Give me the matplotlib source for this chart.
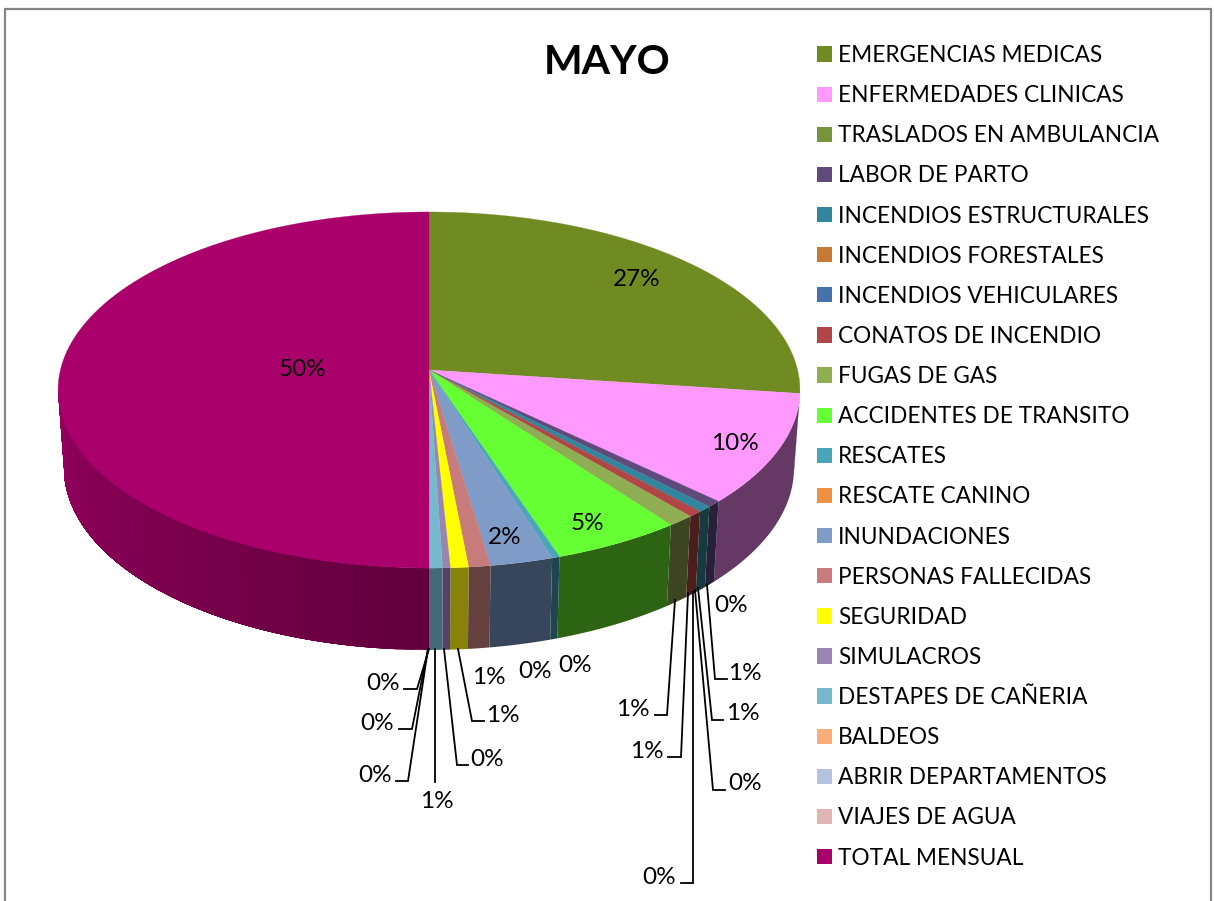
import numpy as np
import matplotlib
matplotlib.use("Agg")
import matplotlib.pyplot as plt
from matplotlib.patches import Patch

title = "MAYO"
categories = ["EMERGENCIAS MEDICAS", "ENFERMEDADES CLINICAS", "TRASLADOS EN AMBULANCIA", "LABOR DE PARTO",
              "INCENDIOS ESTRUCTURALES", "INCENDIOS FORESTALES", "INCENDIOS VEHICULARES", "CONATOS DE INCENDIO",
              "FUGAS DE GAS", "ACCIDENTES DE TRANSITO", "RESCATES", "RESCATE CANINO", "INUNDACIONES",
              "PERSONAS FALLECIDAS", "SEGURIDAD", "SIMULACROS", "DESTAPES DE CAÑERIA", "BALDEOS",
              "ABRIR DEPARTAMENTOS", "VIAJES DE AGUA", "TOTAL MENSUAL"]
values = [27.1, 10.0, 0.0, 0.57, 0.55, 0.0, 0.0, 0.55, 1.05, 5.06, 0.3, 0.0, 2.45,
          0.85, 0.7, 0.3, 0.52, 0.0, 0.0, 0.0, 50.0]

top_colors = ["#708B22", "#FF99FF", "#77933C", "#604A7B", "#31859C", "#C67A32", "#4672AA", "#B14646", "#8FAD52",
              "#66FF33", "#4BA5B9", "#EB9141", "#7F9CC9", "#C77C7B", "#FFFF00", "#9A84B2", "#78B8CF", "#F9AD78",
              "#B3C3DF", "#E0B5B5", "#AA006B"]
wall_colors = ["#3C4A12", "#663866", "#404F20", "#262038", "#173A41", "#60401A", "#253C5A", "#4B1E1E", "#3E4523",
               "#2D6414", "#1C4650", "#704520", "#37465A", "#64413F", "#87820A", "#55416A", "#46697A", "#80603E",
               "#606A78", "#786060", "#62003C"]
magenta_wall_side = "#960060"

# label layout in pixels: centre of text, then the leader polyline (may be empty)
label_xy = [(637, 280), (735, 444), (731, 605), (745, 673), (743, 713), (745, 783), (659, 878), (647, 751),
            (633, 709), (587, 524), (575, 665), (535, 671), (505, 537), (489, 677), (503, 715), (487, 759),
            (437, 801), (383, 683), (377, 723), (375, 775), (303, 370)]
leaders = [None, None, None,
           [(707, 585), (715, 679), (727, 679)],
           [(698, 588), (712, 720), (723, 720)],
           [(695, 590), (713, 790), (725, 790)],
           [(693, 592), (693, 883), (681, 883)],
           [(688, 593), (681, 757), (668, 757)],
           [(675, 600), (667, 715), (655, 715)],
           None, None, None, None, None,
           [(458, 649), (472, 721), (484, 721)],
           [(444, 649), (457, 765), (468, 765)],
           [(435, 649), (435, 782)],
           [(429, 649), (417, 689), (404, 689)],
           [(428, 649), (412, 729), (399, 729)],
           [(428, 649), (408, 781), (396, 781)],
           None]

FONT = "Lato"
W, H = 1214, 901
fig = plt.figure(figsize=(W / 100, H / 100), dpi=100, facecolor="white")
ax = fig.add_axes([0, 0, 1, 1])
ax.set_xlim(0, W)
ax.set_ylim(H, 0)
ax.axis("off")

CX, K = 429.0, 0.1124


def project(theta, cy, a, b):
    """perspective projection of the disc rim; theta clockwise from the top, radians"""
    u, v = np.sin(theta), np.cos(theta)
    w = 1 + K * v
    return CX + a * u / w, cy - b * v / w


def wall_poly(s0, s1, color):
    arc = np.linspace(s0, s1, max(4, int(np.degrees(s1 - s0)) + 2))
    xt, yt = project(arc, *TOP)
    xb, yb = project(arc[::-1], *BOT)
    ax.fill(np.r_[xt, xb], np.r_[yt, yb], color=color, lw=0, zorder=2)


TOP = (370.0, 368.6, 175.8)
BOT = (447.5, 362.7, 179.7)

vals = np.array(values)
edges = np.concatenate([[0], np.cumsum(vals)]) / vals.sum() * 2 * np.pi
TH_R, TH_L = np.pi / 2 + np.arcsin(K), 3 * np.pi / 2 - np.arcsin(K)

# side wall, front half only
for i, (t0, t1) in enumerate(zip(edges[:-1], edges[1:])):
    lo, hi = max(t0, TH_R), min(t1, TH_L)
    if hi <= lo:
        continue
    if i == len(vals) - 1:
        # shaded wall: overlapping bands painted from the front towards the far left end
        c0 = np.array(matplotlib.colors.to_rgb(wall_colors[i]))
        c1 = np.array(matplotlib.colors.to_rgb(magenta_wall_side))
        grid = np.linspace(lo, hi, 41)
        for j in range(len(grid) - 1):
            f = (grid[j] - lo) / (hi - lo)
            wall_poly(grid[j], hi, (1 - f) * c0 + f * c1)
    else:
        wall_poly(lo, hi, wall_colors[i])

# top face
for i, (t0, t1) in enumerate(zip(edges[:-1], edges[1:])):
    if t1 <= t0:
        continue
    arc = np.linspace(t0, t1, max(3, int(np.degrees(t1 - t0)) + 2))
    x, y = project(arc, *TOP)
    ax.fill(np.r_[CX, x], np.r_[TOP[0], y], color=top_colors[i], lw=0.2, zorder=3)

# labels and leaders
for v, (lx, ly), ld in zip(values, label_xy, leaders):
    ax.text(lx, ly, f"{round(v)}%", ha="center", va="center", fontsize=17.5, family=FONT, color="black", zorder=6)
    if ld:
        px, py = zip(*ld)
        ax.plot(px, py, color="black", lw=1.3, zorder=5, solid_joinstyle="miter")

ax.text(607, 62, title, ha="center", va="center", fontsize=29.5, fontweight="bold", family=FONT, color="black")

handles = [Patch(facecolor=c, edgecolor="none", label=l) for c, l in zip(top_colors, categories)]
ax.legend(handles=handles, loc="upper left", bbox_to_anchor=(817, 45), bbox_transform=ax.transData,
          frameon=False, prop={"family": FONT, "size": 16.3}, handlelength=0.664, handleheight=0.664,
          handletextpad=0.27, borderpad=0, borderaxespad=0, labelspacing=0.845, ncol=1)

# chart frame
ax.plot([5, 5, 1210.5, 1210.5], [H, 9, 9, H], color="#858585", lw=1.6, zorder=1, clip_on=True)

fig.savefig("out.png", dpi=100, facecolor="white")
